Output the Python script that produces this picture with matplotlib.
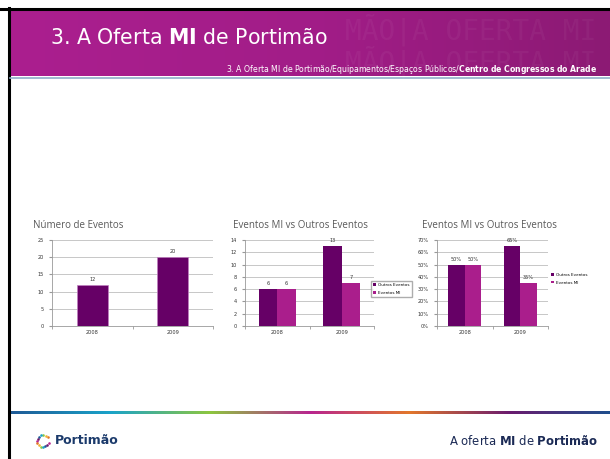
import numpy as np
import matplotlib
matplotlib.use('Agg')
import matplotlib.pyplot as plt
from matplotlib.colors import LinearSegmentedColormap

plt.rcParams['font.family'] = ['DejaVu Sans']
plt.rcParams['mathtext.fontset'] = 'dejavusans'

# dados dos gráficos
anos = ['2008', '2009']
total_eventos = [12, 20]
outros_eventos = [6, 13]
eventos_mi = [6, 7]
pct_outros = [50, 65]
pct_mi = [50, 35]

roxo = '#660066'
magenta = '#AA1E8C'
cinza = '#595959'

W, H = 610, 459
fig = plt.figure(figsize=(6.1, 4.59), dpi=100)

# fundo do slide (coordenadas em pixels)
bg = fig.add_axes([0, 0, 1, 1])
bg.set_xlim(0, W)
bg.set_ylim(H, 0)
bg.axis('off')

# bordas pretas
bg.plot([0, W], [8.5, 8.5], color='black', lw=2.2)
bg.plot([8.5, 8.5], [8, H], color='black', lw=2.2)

# cabeçalho magenta em gradiente
grad = np.linspace(0, 1, 256).reshape(1, -1)
cm_head = LinearSegmentedColormap.from_list('head', ['#AB1F8F', '#A21D88', '#8C1A74'])
bg.imshow(grad, cmap=cm_head, extent=[10, W, 76, 10], aspect='auto', zorder=1)
bg.plot([10, W], [77.5, 77.5], color='#8FAFC8', lw=1.2, zorder=2)

# marca d'água no cabeçalho (muito ténue)
bg.text(345, 30, 'MÃO|A OFERTA MI DE P', fontsize=20, family='DejaVu Sans Mono',
        color='white', alpha=0.045, va='center', zorder=2)
bg.text(345, 62, 'MÃO|A OFERTA MI DE', fontsize=20, family='DejaVu Sans Mono',
        color='white', alpha=0.045, va='center', zorder=2)

bg.text(50, 38, r'3. A Oferta $\mathbf{MI}$ de Portimão', fontsize=14.8, color='white',
        va='center', ha='left', zorder=3)
bg.text(597, 69, r'3. A Oferta MI de Portimão/Equipamentos/Espaços Públicos/$\mathbf{Centro\ de\ Congressos\ do\ Arade}$',
        fontsize=5.6, color='white', va='center', ha='right', zorder=3)

# linha do rodapé em gradiente
cm_foot = LinearSegmentedColormap.from_list('foot', ['#1F5A96', '#1AA3C9', '#8DC63F', '#B8258F',
                                                     '#E2772B', '#6A1B6E', '#1F4E8C'])
bg.imshow(grad, cmap=cm_foot, extent=[10, W, 414.5, 412], aspect='auto', zorder=1)

# logótipo
ang = np.linspace(np.radians(40), np.radians(340), 14)
cores_logo = ['#E2772B', '#F2B233', '#8DC63F', '#1AA3C9', '#1F5A96', '#6A1B6E', '#B8258F']
for i, a in enumerate(ang):
    bg.scatter(43 + 6 * np.cos(a), 441 - 6 * np.sin(a), s=3.5, color=cores_logo[i % 7], zorder=3,
               linewidths=0)
bg.text(55, 441, 'Portimão', fontsize=9, fontweight='bold', color='#1B3A6B', va='center', ha='left')
bg.text(598, 441, r'A oferta $\mathbf{MI}$ de $\mathbf{Portimão}$', fontsize=8.4, color='#1B2A55',
        va='center', ha='right')


def estilo(ax, ymax, passo, pct=False):
    ax.set_xlim(-0.5, 1.5)
    ax.set_ylim(0, ymax)
    ax.set_yticks(np.arange(0, ymax + 0.01, passo))
    if pct:
        ax.set_yticklabels([f'{int(v)}%' for v in np.arange(0, ymax + 0.01, passo)])
    ax.set_xticks([0, 1])
    ax.set_xticklabels(anos)
    ax.set_xticks([-0.5, 0.5, 1.5], minor=True)
    ax.tick_params(axis='x', which='major', length=0, labelsize=3.6, pad=3, colors='#333333')
    ax.tick_params(axis='x', which='minor', length=2, color='#999999')
    ax.tick_params(axis='y', length=2, labelsize=3.6, color='#999999', labelcolor='#333333', pad=4)
    ax.grid(axis='y', color='#B0B0B0', lw=0.5)
    ax.set_axisbelow(True)
    for s in ['top', 'right']:
        ax.spines[s].set_visible(False)
    for s in ['left', 'bottom']:
        ax.spines[s].set_color('#999999')
        ax.spines[s].set_linewidth(0.6)


def pos(x0, x1, y0, y1):
    return [x0 / W, 1 - y1 / H, (x1 - x0) / W, (y1 - y0) / H]


x = np.arange(len(anos))

# gráfico 1
ax1 = fig.add_axes(pos(52, 213, 240, 326))
b = ax1.bar(x, total_eventos, width=0.39, color=roxo, edgecolor='#C080C0', lw=0.5)
ax1.bar_label(b, fontsize=3.6, padding=2, color='#333333')
estilo(ax1, 25, 5)
fig.text(33 / W, 1 - 226 / H, 'Número de Eventos', fontsize=7, color=cinza, va='center',
         family='Open Sans')

# gráfico 2
ax2 = fig.add_axes(pos(245, 374, 240, 326))
w = 0.29
b1 = ax2.bar(x - w / 2, outros_eventos, w, color=roxo, label='Outros Eventos')
b2 = ax2.bar(x + w / 2, eventos_mi, w, color=magenta, label='Eventos MI')
ax2.bar_label(b1, fontsize=3.6, padding=2, color='#333333')
ax2.bar_label(b2, fontsize=3.6, padding=2, color='#333333')
estilo(ax2, 14, 2)
fig.text(233 / W, 1 - 226 / H, 'Eventos MI vs Outros Eventos', fontsize=7, color=cinza,
         va='center', family='Open Sans')
ax2.legend(loc='center left', bbox_to_anchor=(0.96, 0.43), fontsize=3.0, handlelength=0.6,
           handleheight=0.6, handletextpad=0.4, borderpad=0.6, labelspacing=0.9,
           frameon=True, fancybox=False, edgecolor='#999999')

# gráfico 3
ax3 = fig.add_axes(pos(437, 548, 240, 326))
w = 0.3
b1 = ax3.bar(x - w / 2, pct_outros, w, color=roxo, label='Outros Eventos')
b2 = ax3.bar(x + w / 2, pct_mi, w, color=magenta, label='Eventos MI')
ax3.bar_label(b1, labels=[f'{v}%' for v in pct_outros], fontsize=3.6, padding=2, color='#333333')
ax3.bar_label(b2, labels=[f'{v}%' for v in pct_mi], fontsize=3.6, padding=2, color='#333333')
estilo(ax3, 70, 10, pct=True)
fig.text(422 / W, 1 - 226 / H, 'Eventos MI vs Outros Eventos', fontsize=7, color=cinza,
         va='center', family='Open Sans')
ax3.legend(loc='center left', bbox_to_anchor=(1.0, 0.55), fontsize=3.0, handlelength=0.6,
           handleheight=0.6, handletextpad=0.4, borderpad=0.3, labelspacing=0.9,
           frameon=False)

fig.savefig('out.png', dpi=100)
